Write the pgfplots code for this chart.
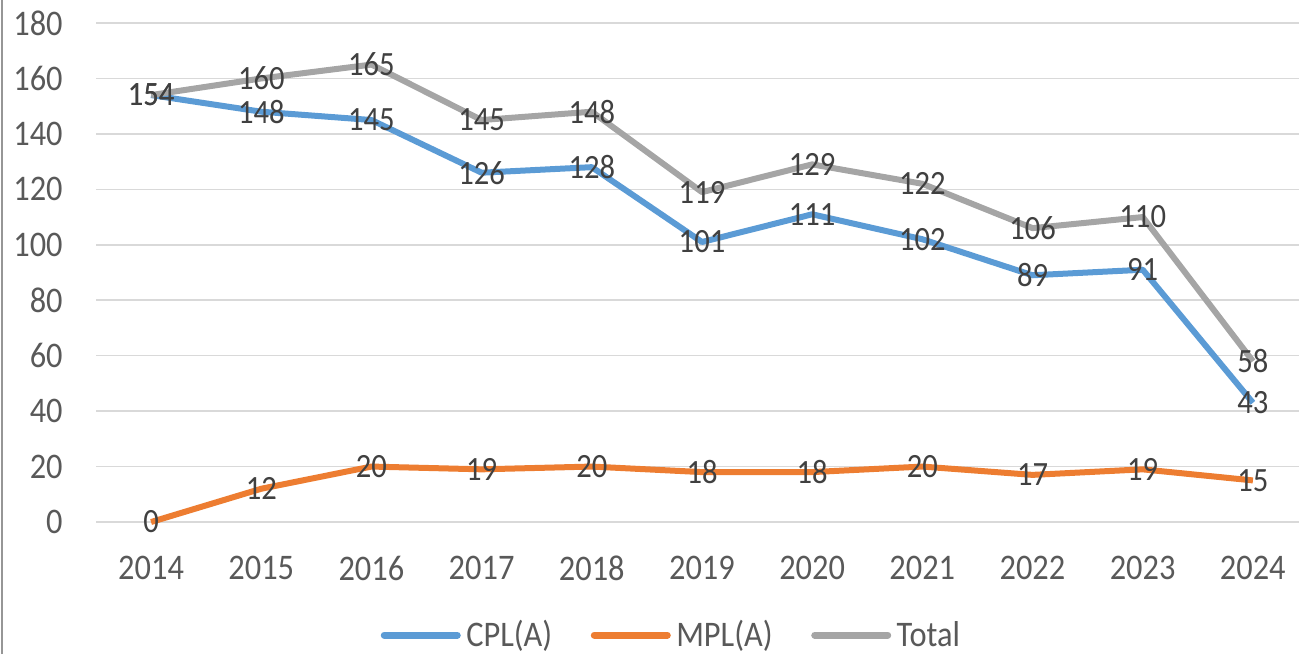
\documentclass[border=0pt]{standalone}
\usepackage{pgfplots}
\pgfplotsset{compat=1.18}
\usepackage{fontspec}
\setmainfont[FakeStretch=0.9]{Carlito}
\definecolor{cblue}{HTML}{5B9BD5}
\definecolor{corange}{HTML}{ED7D31}
\definecolor{cgray}{HTML}{A5A5A5}
\definecolor{cgrid}{HTML}{D9D9D9}
\definecolor{ctick}{HTML}{595959}
\definecolor{clab}{HTML}{404040}
\pgfplotstableread{
year cpl mpl total
2014 154 0 154
2015 148 12 160
2016 145 20 165
2017 126 19 145
2018 128 20 148
2019 101 18 119
2020 111 18 129
2021 102 20 122
2022 89 17 106
2023 91 19 110
2024 43 15 58
}\datatable
\begin{document}
\begin{tikzpicture}
\useasboundingbox (0,0) rectangle (649.5pt,327pt);
\clip (0,0) rectangle (649.5pt,327pt);
\draw[line width=1pt, color={rgb,255:red,150;green,150;blue,150}] (1pt,0) -- (1pt,327pt);
\begin{axis}[
  at={(48pt,66pt)}, anchor=south west,
  scale only axis, width=606pt, height=249.5pt,
  xmin=2013.5, xmax=2024.5, ymin=0, ymax=180,
  xtick={2014,...,2024}, ytick={0,20,...,180},
  xticklabel style={/pgf/number format/1000 sep={}},
  /pgf/number format/assume math mode=true,
  axis line style={draw=none},
  major tick style={draw=none},
  ymajorgrids, grid style={color=cgrid, line width=0.8pt},
  tick label style={font=\fontsize{18}{21}\selectfont, text=ctick},
  xticklabel style={anchor=center, inner sep=0pt, yshift=-23pt},
  yticklabel style={anchor=east, inner sep=0pt, xshift=-16.5pt},
  clip=false,
  legend columns=3,
  legend style={draw=none, fill=none, at={(0.4748,-0.2265)}, anchor=center,
    font=\fontsize{18}{21}\selectfont, text=ctick,
    nodes={inner sep=1pt},
    /tikz/every odd column/.append style={column sep=1.75pt},
    /tikz/every even column/.append style={column sep=18.25pt}},
  legend cell align=left,
  legend image code/.code={\draw[#1, line width=3.5pt, line cap=round] (0pt,0pt) -- (36.5pt,0pt);},
  every node near coord/.append style={anchor=center, font=\fontsize{17}{21}\selectfont, text=clab},
]
\addplot[color=cblue, line width=3pt, line join=round] table[x=year,y=cpl] {\datatable};
\addlegendentry{CPL(A)}
\addplot[color=corange, line width=3pt, line join=round] table[x=year,y=mpl] {\datatable};
\addlegendentry{MPL(A)}
\addplot[color=cgray, line width=3pt, line join=round] table[x=year,y=total] {\datatable};
\addlegendentry{Total}
\addplot[draw=none, forget plot, nodes near coords] table[x=year,y=cpl] {\datatable};
\addplot[draw=none, forget plot, nodes near coords] table[x=year,y=mpl] {\datatable};
\addplot[draw=none, forget plot, nodes near coords] table[x=year,y=total] {\datatable};
\end{axis}
\end{tikzpicture}
\end{document}
